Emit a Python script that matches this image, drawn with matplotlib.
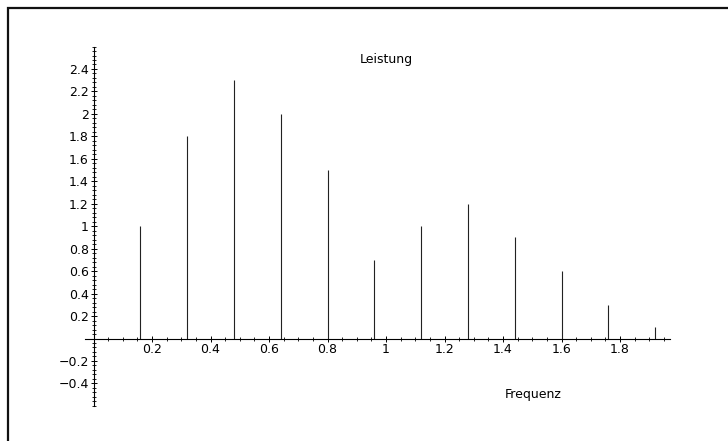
import matplotlib
matplotlib.use('Agg')
import matplotlib.pyplot as plt
from matplotlib.patches import Rectangle
from matplotlib.ticker import MultipleLocator, FixedLocator

plt.rcParams['font.family'] = ['DejaVu Sans']

# Daten
frequenz = [0.16, 0.32, 0.48, 0.64, 0.80, 0.96, 1.12, 1.28, 1.44, 1.60, 1.76, 1.92]
leistung = [1.0, 1.8, 2.3, 2.0, 1.5, 0.7, 1.0, 1.2, 0.9, 0.6, 0.3, 0.1]
x_ticks = [0.2, 0.4, 0.6, 0.8, 1.0, 1.2, 1.4, 1.6, 1.8]
x_labels = ['0.2', '0.4', '0.6', '0.8', '1', '1.2', '1.4', '1.6', '1.8']
y_ticks = [-0.4, -0.2, 0.2, 0.4, 0.6, 0.8, 1.0, 1.2, 1.4, 1.6, 1.8, 2.0, 2.2, 2.4]
y_labels = ['\u22120.4', '\u22120.2', '0.2', '0.4', '0.6', '0.8', '1', '1.2', '1.4',
            '1.6', '1.8', '2', '2.2', '2.4']

W, H = 728, 441
fig = plt.figure(figsize=(W / 100, H / 100), dpi=100)

# Achsen so legen, dass x=0 bei px 93.5 und y=0 bei px 338.5 liegt
x0_px, x_unit = 93.5, 292.5
y0_px, y_unit = 338.5, 112.3
xmin, xmax = -0.03, 1.97
ymin, ymax = -0.6, 2.6
left = (x0_px + xmin * x_unit) / W
width = (xmax - xmin) * x_unit / W
top_px = y0_px - ymax * y_unit
height = (ymax - ymin) * y_unit / H
bottom = (H - top_px) / H - height
ax = fig.add_axes([left, bottom, width, height])
ax.set_xlim(xmin, xmax)
ax.set_ylim(ymin, ymax)

ax.vlines(frequenz, 0, leistung, color='#222222', linewidth=0.8)

for side in ['top', 'right']:
    ax.spines[side].set_visible(False)
ax.spines['left'].set_position(('data', 0))
ax.spines['bottom'].set_position(('data', 0))
ax.spines['left'].set_linewidth(0.8)
ax.spines['bottom'].set_linewidth(0.8)

ax.xaxis.set_major_locator(FixedLocator(x_ticks))
ax.set_xticklabels(x_labels)
ax.yaxis.set_major_locator(FixedLocator(y_ticks))
ax.set_yticklabels(y_labels)
ax.xaxis.set_minor_locator(MultipleLocator(0.05))
ax.yaxis.set_minor_locator(MultipleLocator(0.04))
ax.tick_params(which='major', direction='inout', length=4, width=0.7, labelsize=9, pad=1.5)
ax.tick_params(which='minor', direction='inout', length=2.5, width=0.6)

ax.text(1.002, 2.48, 'Leistung', ha='center', va='center', fontsize=9)
ax.text(1.503, -0.503, 'Frequenz', ha='center', va='center', fontsize=9)

# Rahmen (nur oben und links sichtbar)
fig.patches.append(Rectangle((8 / W, -0.1), 1.2, (H - 8) / H + 0.1,
                             transform=fig.transFigure, fill=False,
                             edgecolor='#111111', linewidth=1.6))

fig.savefig('out.png', dpi=100)
